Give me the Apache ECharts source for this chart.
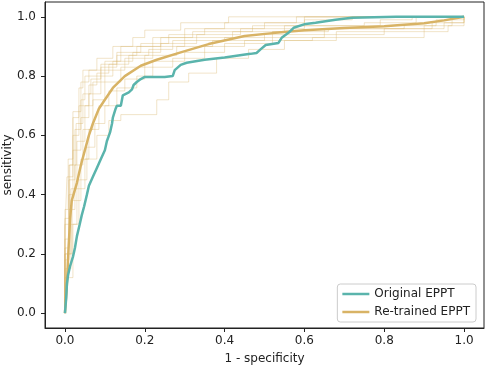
<!DOCTYPE html>
<html>
<head>
<meta charset="utf-8">
<script src="https://cdn.jsdelivr.net/npm/echarts@6/dist/echarts.min.js"></script>
<style>
html,body{margin:0;padding:0;background:#fff;}
#rocChart{width:486px;height:366px;}
</style>
</head>
<body>
<div id="rocChart"></div>
<script>
//刻度
var xTicks = [0, 0.2, 0.4, 0.6, 0.8, 1.0];
var yTicks = [0, 0.2, 0.4, 0.6, 0.8, 1.0];
//原始模型 ROC
var originalRoc = [[0,0],[0.003,0.05],[0.005,0.1],[0.008,0.13],[0.013,0.16],[0.02,0.19],[0.025,0.22],[0.03,0.26],[0.037,0.3],[0.042,0.33],[0.048,0.36],[0.055,0.4],[0.06,0.43],[0.07,0.46],[0.08,0.49],[0.09,0.52],[0.1,0.55],[0.105,0.58],[0.113,0.61],[0.118,0.64],[0.12,0.66],[0.127,0.69],[0.13,0.70],[0.14,0.70],[0.145,0.735],[0.16,0.745],[0.168,0.755],[0.172,0.77],[0.18,0.78],[0.19,0.79],[0.2,0.797],[0.25,0.797],[0.255,0.80],[0.27,0.80],[0.275,0.82],[0.29,0.838],[0.305,0.845],[0.35,0.855],[0.4,0.863],[0.447,0.872],[0.465,0.875],[0.48,0.878],[0.49,0.89],[0.503,0.905],[0.535,0.912],[0.543,0.929],[0.56,0.946],[0.573,0.963],[0.603,0.976],[0.628,0.98],[0.678,0.99],[0.719,0.997],[0.83,1.0],[1,1]];
//重新训练模型 平均 ROC
var retrainedMean = [[0,0],[0.005,0.1],[0.009,0.22],[0.013,0.32],[0.017,0.38],[0.03,0.44],[0.04,0.5],[0.05,0.55],[0.06,0.6],[0.07,0.64],[0.085,0.69],[0.1,0.72],[0.12,0.76],[0.15,0.80],[0.19,0.835],[0.23,0.855],[0.29,0.88],[0.36,0.908],[0.45,0.935],[0.52,0.945],[0.6,0.955],[0.7,0.962],[0.8,0.968],[0.9,0.978],[0.95,0.988],[1,1]];
//重新训练模型 各次 ROC（阶梯）
var retrainedRuns = [
	[[0,0],[0,0.32],[0.01,0.5],[0.02,0.66],[0.035,0.76],[0.045,0.82],[0.08,0.86],[0.12,0.9],[0.17,0.93],[0.2,0.955],[0.29,0.98],[0.41,1.0],[1,1]],
	[[0,0],[0,0.25],[0.01,0.45],[0.025,0.62],[0.04,0.72],[0.05,0.8],[0.09,0.84],[0.13,0.88],[0.19,0.91],[0.26,0.94],[0.35,0.96],[0.5,0.98],[0.6,1.0],[1,1]],
	[[0,0],[0,0.2],[0.015,0.42],[0.03,0.58],[0.05,0.7],[0.07,0.78],[0.1,0.82],[0.15,0.86],[0.22,0.9],[0.3,0.93],[0.42,0.95],[0.55,0.97],[0.75,0.98],[0.88,1.0],[1,1]],
	[[0,0],[0,0.18],[0.01,0.35],[0.025,0.5],[0.045,0.62],[0.07,0.72],[0.1,0.78],[0.14,0.83],[0.2,0.87],[0.28,0.9],[0.37,0.92],[0.5,0.94],[0.68,0.95],[0.9,0.97],[0.97,1.0],[1,1]],
	[[0,0],[0,0.15],[0.015,0.3],[0.03,0.42],[0.05,0.52],[0.08,0.6],[0.11,0.65],[0.14,0.67],[0.23,0.72],[0.26,0.78],[0.31,0.81],[0.38,0.86],[0.46,0.89],[0.55,0.92],[0.68,0.94],[0.8,0.96],[0.92,0.98],[1,1]],
	[[0,0],[0,0.22],[0.01,0.4],[0.02,0.55],[0.04,0.66],[0.06,0.74],[0.09,0.8],[0.12,0.85],[0.17,0.88],[0.24,0.91],[0.33,0.94],[0.44,0.96],[0.6,0.97],[0.79,0.99],[0.87,1.0],[1,1]],
	[[0,0],[0,0.28],[0.005,0.46],[0.02,0.6],[0.035,0.7],[0.06,0.77],[0.08,0.81],[0.11,0.84],[0.16,0.87],[0.21,0.89],[0.27,0.92],[0.4,0.93],[0.52,0.95],[0.66,0.96],[0.95,0.98],[1,1]],
	[[0,0],[0,0.12],[0.02,0.3],[0.035,0.45],[0.055,0.56],[0.075,0.64],[0.1,0.7],[0.13,0.76],[0.18,0.8],[0.22,0.85],[0.3,0.88],[0.4,0.91],[0.52,0.93],[0.65,0.96],[0.85,0.97],[0.93,0.99],[1,1]],
	[[0,0],[0,0.3],[0.012,0.5],[0.028,0.64],[0.045,0.74],[0.065,0.79],[0.09,0.83],[0.13,0.87],[0.18,0.9],[0.24,0.93],[0.32,0.95],[0.47,0.97],[0.6,0.99],[0.72,1.0],[1,1]],
	[[0,0],[0,0.2],[0.018,0.38],[0.04,0.52],[0.06,0.62],[0.085,0.7],[0.11,0.75],[0.15,0.79],[0.2,0.83],[0.27,0.86],[0.35,0.9],[0.45,0.92],[0.62,0.93],[0.9,0.95],[0.96,0.97],[1,1]],
	[[0,0],[0,0.35],[0.008,0.52],[0.02,0.68],[0.04,0.78],[0.06,0.82],[0.1,0.85],[0.14,0.9],[0.22,0.93],[0.3,0.96],[0.4,0.98],[0.58,1.0],[1,1]]
];
var tealColor = '#5ab4ac';
var goldColor = '#d8b365';
var fontName = 'DejaVu Sans';

function tickLabel(v){
	return v.toFixed(1);
}

function initRocChart(){
	var chart = echarts.init(document.getElementById('rocChart'));
	var series = [];
	//细线：各次训练
	for(var i = 0; i < retrainedRuns.length; i++){
		series.push({
			name: 'run' + i,
			type: 'line',
			step: 'end',
			symbol: 'none',
			silent: true,
			data: retrainedRuns[i],
			lineStyle: {color: goldColor, width: 1, opacity: 0.35}
		});
	}
	series.push({
		name: 'Re-trained EPPT',
		type: 'line',
		symbol: 'none',
		data: retrainedMean,
		color: goldColor,
		lineStyle: {color: goldColor, width: 2.5}
	});
	series.push({
		name: 'Original EPPT',
		type: 'line',
		symbol: 'none',
		data: originalRoc,
		color: tealColor,
		lineStyle: {color: tealColor, width: 2.5}
	});
	var option = {
		animation: false,
		backgroundColor: '#fff',
		grid: {
			left: 45,
			right: 2,
			top: 2,
			bottom: 38,
			outerBoundsMode: 'none',
			show: true,
			borderColor: '#222',
			borderWidth: 1
		},
		legend: {
			data: ['Original EPPT', 'Re-trained EPPT'],
			orient: 'vertical',
			right: 10,
			bottom: 44,
			icon: 'rect',
			itemWidth: 27,
			itemHeight: 2.5,
			itemGap: 6,
			padding: [4, 6, 4, 5],
			borderColor: '#cccccc',
			borderWidth: 1,
			borderRadius: 3,
			backgroundColor: '#fff',
			selectedMode: false,
			textStyle: {fontFamily: fontName, fontSize: 12, color: '#222'}
		},
		xAxis: {
			type: 'value',
			min: -0.05,
			max: 1.05,
			name: '1 - specificity',
			nameLocation: 'middle',
			nameGap: 25,
			nameMoveOverlap: false,
			nameTextStyle: {fontFamily: fontName, fontSize: 12, color: '#222'},
			splitLine: {show: false},
			axisLine: {show: true, onZero: false, lineStyle: {color: '#222'}},
			axisTick: {show: true, customValues: xTicks, length: 4, lineStyle: {color: '#222'}},
			axisLabel: {customValues: xTicks, formatter: tickLabel, fontFamily: fontName, fontSize: 12, color: '#222', margin: 7}
		},
		yAxis: {
			type: 'value',
			min: -0.05,
			max: 1.05,
			name: 'sensitivity',
			nameLocation: 'middle',
			nameGap: 31,
			nameMoveOverlap: false,
			nameTextStyle: {fontFamily: fontName, fontSize: 12, color: '#222'},
			splitLine: {show: false},
			axisLine: {show: true, onZero: false, lineStyle: {color: '#222'}},
			axisTick: {show: true, customValues: yTicks, length: 4, lineStyle: {color: '#222'}},
			axisLabel: {customValues: yTicks, formatter: tickLabel, fontFamily: fontName, fontSize: 12, color: '#222', margin: 9}
		},
		series: series
	};
	chart.setOption(option);
}

initRocChart();
</script>
</body>
</html>
